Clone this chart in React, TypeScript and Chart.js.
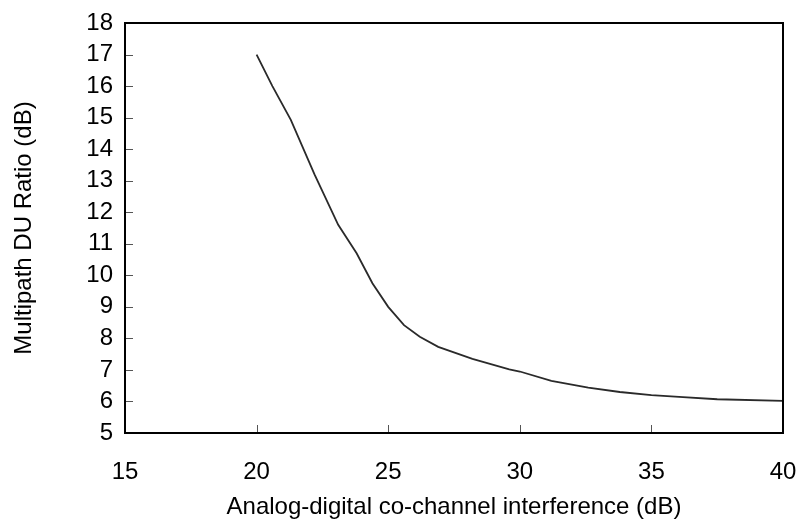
import React, { useEffect, useRef } from "react";
import { Chart, registerables } from "chart.js";

Chart.register(...registerables);

const interferenceDb = [20, 20.6, 21.3, 22.2, 23.1, 23.8, 24.4, 25.0, 25.6, 26.2, 26.9, 28.2, 29.6, 30.0, 31.2, 32.6, 33.8, 35.0, 36.2, 37.5, 40.0];
const duRatioDb = [17.0, 16.0, 14.93, 13.2, 11.6, 10.7, 9.75, 9.0, 8.42, 8.05, 7.73, 7.35, 7.02, 6.95, 6.65, 6.44, 6.3, 6.2, 6.14, 6.07, 6.02];

const xTitle = "Analog-digital co-channel interference (dB)";
const yTitle = "Multipath DU Ratio (dB)";
const xMin = 15, xMax = 40, xStep = 5;
const yMin = 5, yMax = 18, yStep = 1;

const FONT = "'Liberation Sans', Arial, sans-serif";

const framePlugin = {
  id: "frameTicks",
  afterDraw(chart: any) {
    const { ctx, chartArea } = chart;
    const xs = chart.scales.x;
    const ys = chart.scales.y;
    ctx.save();
    ctx.strokeStyle = "#555";
    ctx.lineWidth = 1;
    ctx.beginPath();
    xs.ticks.forEach((t: any) => {
      const px = Math.round(xs.getPixelForValue(t.value)) + 0.5;
      ctx.moveTo(px, chartArea.bottom);
      ctx.lineTo(px, chartArea.bottom - 8);
    });
    ys.ticks.forEach((t: any) => {
      const py = Math.round(ys.getPixelForValue(t.value)) + 0.5;
      ctx.moveTo(chartArea.left, py);
      ctx.lineTo(chartArea.left + 8, py);
    });
    ctx.stroke();
    ctx.strokeStyle = "#000";
    ctx.lineWidth = 2;
    ctx.strokeRect(chartArea.left, chartArea.top, chartArea.right - chartArea.left, chartArea.bottom - chartArea.top);
    ctx.restore();
  },
};

export default function App() {
  const ref = useRef<HTMLCanvasElement | null>(null);
  useEffect(() => {
    if (!ref.current) return;
    const chart = new Chart(ref.current, {
      type: "line",
      data: {
        datasets: [
          {
            data: interferenceDb.map((x, i) => ({ x, y: duRatioDb[i] })),
            borderColor: "#2a2a2a",
            borderWidth: 1.8,
            pointRadius: 0,
            tension: 0,
            fill: false,
          },
        ],
      },
      options: {
        animation: false,
        responsive: true,
        maintainAspectRatio: false,
        layout: { padding: { top: 23, right: 15, left: 0, bottom: 0 } },
        plugins: { legend: { display: false }, tooltip: { enabled: false } },
        scales: {
          x: {
            type: "linear",
            min: xMin,
            max: xMax,
            ticks: { stepSize: xStep, autoSkip: false, maxRotation: 0, color: "#000", font: { family: FONT, size: 24 }, padding: 25 },
            grid: { display: false, drawTicks: false },
            border: { display: false },
            title: { display: true, text: xTitle, color: "#000", font: { family: FONT, size: 24 }, padding: { top: 0, bottom: 1 } },
            afterFit: (s: any) => { s.height = 90; s.paddingLeft = 0; s.paddingRight = 0; },
          },
          y: {
            type: "linear",
            min: yMin,
            max: yMax,
            ticks: { stepSize: yStep, autoSkip: false, color: "#000", font: { family: FONT, size: 24 }, padding: 12 },
            grid: { display: false, drawTicks: false },
            border: { display: false },
            title: { display: true, text: yTitle, color: "#000", font: { family: FONT, size: 24 }, padding: { top: 10, bottom: 0 } },
            afterFit: (s: any) => { s.width = 125; s.paddingTop = 0; s.paddingBottom = 0; },
          },
        },
      },
      plugins: [framePlugin],
    });
    return () => chart.destroy();
  }, []);
  return (
    <div style={{ position: "absolute", left: 0, top: 0, width: 798, height: 523, background: "#fff" }}>
      <canvas ref={ref} />
    </div>
  );
}
